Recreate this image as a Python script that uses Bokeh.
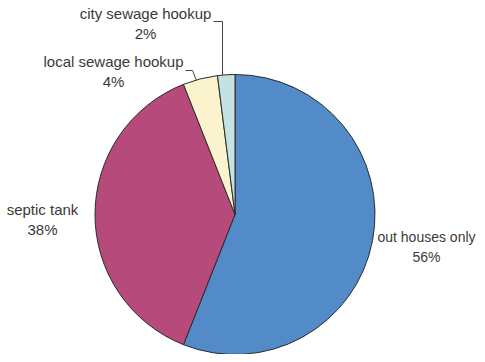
import math
from bokeh.plotting import figure
from bokeh.models import Range1d, ColumnDataSource
from bokeh.embed import file_html
from bokeh.resources import INLINE
from bokeh.core.properties import value

categories = ["out houses only", "septic tank", "local sewage hookup", "city sewage hookup"]
shares = [56, 38, 4, 2]
colors = ["#538BC8", "#B64A7B", "#FAF3CE", "#C4E2E2"]

W, H = 477, 354
DY = -4  # vertical shift to keep the pie inside the page

def Y(py):
    return H - (py + DY)

p = figure(width=W, height=H, output_backend="svg", toolbar_location=None,
           x_range=Range1d(0, W), y_range=Range1d(0, H),
           min_border=0)
p.axis.visible = False
p.grid.visible = False
p.outline_line_color = None
p.background_fill_color = "white"

cx, cy, r = 234.5, Y(218), 140
total = float(sum(shares))
starts, ends = [], []
a = math.pi / 2
for s in shares:
    starts.append(a)
    a -= 2 * math.pi * s / total
    ends.append(a)

src = ColumnDataSource(dict(start=starts, end=ends, color=colors,
                            x=[cx] * len(shares), y=[cy] * len(shares)))
p.wedge(x="x", y="y", radius=r, start_angle="start", end_angle="end",
        direction="clock", fill_color="color", line_color="#2b2b2b", line_width=1,
        source=src)

# leader lines
p.line([222, 222, 213], [Y(79), Y(25), Y(25)], line_color="#444444", line_width=1)
p.line([196, 192, 185], [Y(84), Y(74), Y(74)], line_color="#444444", line_width=1)

label_pos = [(426, 240, "14px"), (42, 213, "15px"), (113, 65, "15px"), (145, 17, "15px")]
for cat, s, (lx, ly, fs) in zip(categories, shares, label_pos):
    p.text([lx], [Y(ly)], text=[cat], text_align="center", text_baseline="middle",
           text_font=value("Liberation Sans"), text_font_size=fs, text_color="#3a3a3a")
    p.text([lx], [Y(ly + 20)], text=["%d%%" % s], text_align="center", text_baseline="middle",
           text_font=value("Liberation Sans"), text_font_size=fs, text_color="#3a3a3a")

open("out.html", "w").write(file_html(p, INLINE))
